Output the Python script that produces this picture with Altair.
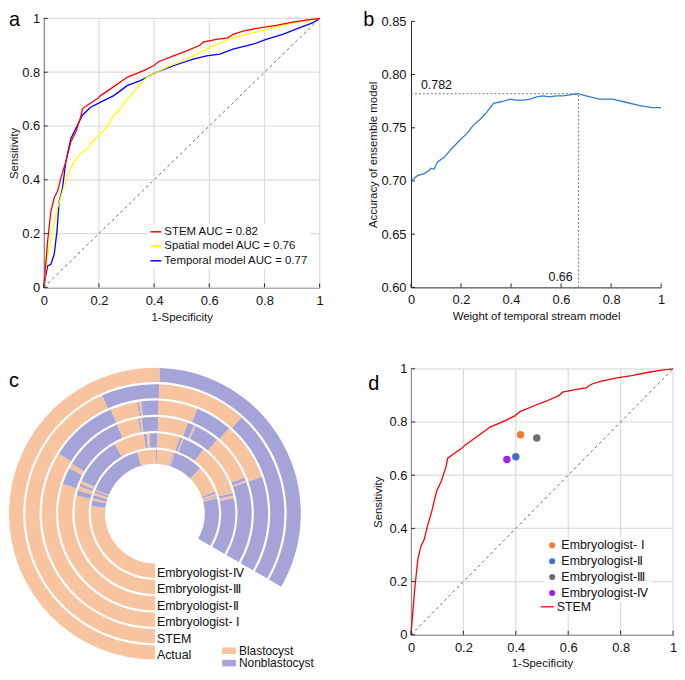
import math
import pandas as pd
import altair as alt

FONT = "Liberation Sans"
AX = "#262626"
TXT = "#111111"
GRID = "#dcdcdc"

# ---------------- panel a : ROC curves ----------------
stem_fpr = [0, 0.014, 0.026, 0.038, 0.05, 0.062, 0.08, 0.098, 0.116, 0.134, 0.14, 0.158, 0.194, 0.206,
            0.242, 0.302, 0.362, 0.398, 0.416, 0.47, 0.518, 0.566, 0.578, 0.626, 0.668, 0.686, 0.722,
            0.782, 0.842, 0.902, 0.95, 1.0]
stem_tpr = [0, 0.17, 0.283, 0.333, 0.357, 0.406, 0.467, 0.541, 0.578, 0.633, 0.664, 0.677, 0.701, 0.713,
            0.738, 0.781, 0.806, 0.824, 0.839, 0.861, 0.879, 0.9, 0.912, 0.922, 0.928, 0.941, 0.953,
            0.965, 0.974, 0.986, 0.994, 1.0]
spatial_fpr = [0, 0.014, 0.032, 0.05, 0.068, 0.086, 0.11, 0.134, 0.158, 0.182, 0.206, 0.23, 0.254, 0.278,
               0.302, 0.326, 0.35, 0.374, 0.41, 0.458, 0.518, 0.566, 0.614, 0.686, 0.758, 0.83, 0.902,
               0.962, 1.0]
spatial_tpr = [0, 0.123, 0.209, 0.295, 0.357, 0.418, 0.467, 0.498, 0.517, 0.547, 0.572, 0.597, 0.64, 0.664,
               0.701, 0.726, 0.756, 0.781, 0.8, 0.824, 0.849, 0.873, 0.898, 0.928, 0.947, 0.965, 0.983,
               0.993, 1.0]
temporal_fpr = [0, 0.014, 0.026, 0.038, 0.048, 0.056, 0.068, 0.08, 0.098, 0.122, 0.14, 0.17, 0.206, 0.254,
                0.302, 0.35, 0.41, 0.47, 0.542, 0.59, 0.638, 0.686, 0.758, 0.806, 0.866, 0.926, 0.974, 1.0]
temporal_tpr = [0, 0.08, 0.086, 0.123, 0.209, 0.32, 0.369, 0.467, 0.553, 0.603, 0.64, 0.67, 0.689, 0.713,
                0.75, 0.769, 0.8, 0.824, 0.849, 0.861, 0.867, 0.886, 0.904, 0.922, 0.941, 0.965, 0.983, 1.0]
roc_labels = ["STEM AUC = 0.82", "Spatial model AUC = 0.76", "Temporal model AUC = 0.77"]
roc_colors = ["#ff0000", "#ffff00", "#0000ff"]
unit_ticks = [0, 0.2, 0.4, 0.6, 0.8, 1]

# ---------------- panel b : ensemble weight ----------------
weight = [0, 0.026, 0.053, 0.073, 0.079, 0.092, 0.106, 0.132, 0.165, 0.198, 0.225, 0.251, 0.277, 0.304,
          0.330, 0.350, 0.370, 0.396, 0.416, 0.449, 0.476, 0.502, 0.528, 0.555, 0.581, 0.608, 0.634,
          0.667, 0.700, 0.753, 0.806, 0.859, 0.911, 0.964, 1.0]
accuracy = [0.700, 0.705, 0.707, 0.710, 0.712, 0.711, 0.718, 0.722, 0.731, 0.739, 0.745, 0.753, 0.758,
            0.765, 0.773, 0.774, 0.775, 0.777, 0.776, 0.776, 0.777, 0.779, 0.780, 0.779, 0.780, 0.780,
            0.781, 0.782, 0.780, 0.777, 0.777, 0.774, 0.771, 0.769, 0.769]
best_acc = 0.782
best_acc_label = "0.782"
best_weight = 0.67
best_weight_label = "0.66"
b_yticks = [0.6, 0.65, 0.7, 0.75, 0.8, 0.85]

# ---------------- panel c : ring chart (run lengths, out of 300 units) ----------------
ring_names = ["Actual", "STEM", "Embryologist- Ⅰ", "Embryologist-Ⅱ", "Embryologist-Ⅲ", "Embryologist-Ⅳ"]
ring_classes = ["Blastocyst", "Nonblastocyst"]
ring_colors = ["#F8C4A0", "#A4A4D8"]
runs_actual = [182, 118]
runs_stem = [156, 26, 40, 78]
runs_e1 = [122, 35, 14, 1, 1, 9, 20, 19, 30, 49]
runs_e2 = [108, 10, 3, 36, 13, 1, 1, 10, 18, 4, 1, 15, 28, 2, 1, 49]
runs_e3 = [103, 4, 3, 2, 2, 36, 22, 2, 2, 6, 16, 2, 1, 16, 38, 2, 2, 41]
runs_e4 = [97, 5, 2, 3, 2, 2, 1, 52, 17, 1, 14, 1, 1, 27, 25, 2, 2, 1, 1, 44]
ring_runs = [runs_actual, runs_stem, runs_e1, runs_e2, runs_e3, runs_e4]

# ---------------- panel d : embryologists vs STEM ----------------
emb_names = ["Embryologist- Ⅰ", "Embryologist-Ⅱ", "Embryologist-Ⅲ", "Embryologist-Ⅳ"]
emb_fpr = [0.418, 0.40, 0.48, 0.366]
emb_tpr = [0.752, 0.669, 0.74, 0.659]
emb_colors = ["#ED7D31", "#4472C4", "#6D6D6D", "#A020F0"]


# ---------------- helpers ----------------
def make_axis(title, vals, fmt, lp, tp):
    return alt.Axis(title=title, values=vals, format=fmt, grid=False, labelPadding=lp, titlePadding=tp)


def xticks(vals, field, scale, axis, H, L=4):
    df = pd.DataFrame({field: vals})
    return alt.Chart(df).mark_rule(color=AX, strokeWidth=1).encode(
        x=alt.X(f"{field}:Q", scale=scale, axis=axis), y=alt.value(H), y2=alt.value(H - L))


def yticks(vals, field, scale, axis, L=4):
    df = pd.DataFrame({field: vals})
    return alt.Chart(df).mark_rule(color=AX, strokeWidth=1).encode(
        y=alt.Y(f"{field}:Q", scale=scale, axis=axis), x=alt.value(0), x2=alt.value(L))


def xgrid(vals, field, scale, axis, H):
    df = pd.DataFrame({field: vals})
    return alt.Chart(df).mark_rule(color=GRID, strokeWidth=1.2).encode(
        x=alt.X(f"{field}:Q", scale=scale, axis=axis), y=alt.value(0), y2=alt.value(H))


def ygrid(vals, field, scale, axis, W):
    df = pd.DataFrame({field: vals})
    return alt.Chart(df).mark_rule(color=GRID, strokeWidth=1.2).encode(
        y=alt.Y(f"{field}:Q", scale=scale, axis=axis), x=alt.value(0), x2=alt.value(W))


def letter(ch, x, y):
    return alt.Chart(pd.DataFrame({"t": [ch]})).mark_text(
        align="left", baseline="alphabetic", fontSize=20, font=FONT, color="black"
    ).encode(text="t:N", x=alt.value(x), y=alt.value(y))


# ---------------- panel a ----------------
WA, HA = 278, 271
sa = alt.Scale(domain=[0, 1], nice=False, zero=False)
roc_df = pd.concat([
    pd.DataFrame({"series": roc_labels[0], "fpr": stem_fpr, "tpr": stem_tpr}),
    pd.DataFrame({"series": roc_labels[1], "fpr": spatial_fpr, "tpr": spatial_tpr}),
    pd.DataFrame({"series": roc_labels[2], "fpr": temporal_fpr, "tpr": temporal_tpr}),
])
color_a = alt.Color("series:N", scale=alt.Scale(domain=roc_labels, range=roc_colors),
                    legend=alt.Legend(orient="none", legendX=104.5, legendY=206.5, title=None,
                                      symbolType="stroke", symbolSize=121, symbolStrokeWidth=1.5,
                                      labelFontSize=11.5, labelFont=FONT, labelColor=TXT,
                                      fillColor="white", padding=2, rowPadding=2.6,
                                      labelOffset=2, labelLimit=300))
ax_a_x = make_axis("1-Specificity", unit_ticks, "~g", 7, 4)
ax_a_y = make_axis("Sensitivity", unit_ticks, "~g", 4, 2)


def roc_curve(lab):
    return alt.Chart(roc_df).transform_filter(alt.datum.series == lab).mark_line(strokeWidth=1.3).encode(
        x=alt.X("fpr:Q", scale=sa, axis=ax_a_x),
        y=alt.Y("tpr:Q", scale=sa, axis=ax_a_y),
        color=color_a)


diag_df = pd.DataFrame({"fpr": [0, 1], "tpr": [0, 1]})
diag_a = alt.Chart(diag_df).mark_line(color="#6b6b6b", strokeDash=[3, 3], strokeWidth=1).encode(
    x=alt.X("fpr:Q", scale=sa, axis=ax_a_x), y=alt.Y("tpr:Q", scale=sa, axis=ax_a_y))

pa = alt.layer(
    xgrid(unit_ticks, "fpr", sa, ax_a_x, HA), ygrid(unit_ticks, "tpr", sa, ax_a_y, WA),
    diag_a,
    roc_curve(roc_labels[2]), roc_curve(roc_labels[1]), roc_curve(roc_labels[0]),
    xticks(unit_ticks, "fpr", sa, ax_a_x, HA), yticks(unit_ticks, "tpr", sa, ax_a_y),
    letter("a", -35, 8),
).properties(width=WA, height=HA)

# ---------------- panel b ----------------
WB = 252
sbx = alt.Scale(domain=[0, 1], nice=False, zero=False)
sby = alt.Scale(domain=[0.6, 0.85], range=[HA, 3], nice=False, zero=False)
ax_b_x = make_axis("Weight of temporal stream model", unit_ticks, "~g", 6, 4)
ax_b_y = make_axis("Accuracy of ensemble model", b_yticks, ".2f", 5, 2.5)
b_df = pd.DataFrame({"w": weight, "acc": accuracy})
line_b = alt.Chart(b_df).mark_line(color="#2E7FD2", strokeWidth=1.3).encode(
    x=alt.X("w:Q", scale=sbx, axis=ax_b_x),
    y=alt.Y("acc:Q", scale=sby, axis=ax_b_y))
h_df = pd.DataFrame({"w": [0], "w2": [best_weight], "acc": [best_acc]})
hline_b = alt.Chart(h_df).mark_rule(color="#777777", strokeDash=[2, 2], strokeWidth=1).encode(
    x=alt.X("w:Q", scale=sbx, axis=ax_b_x), x2="w2:Q", y=alt.Y("acc:Q", scale=sby, axis=ax_b_y))
v_df = pd.DataFrame({"w": [best_weight], "acc": [0.6], "acc2": [best_acc]})
vline_b = alt.Chart(v_df).mark_rule(color="#777777", strokeDash=[2, 2], strokeWidth=1).encode(
    x=alt.X("w:Q", scale=sbx, axis=ax_b_x), y=alt.Y("acc:Q", scale=sby, axis=ax_b_y), y2="acc2:Q")
t1_df = pd.DataFrame({"acc": [best_acc], "t": [best_acc_label]})
txt1_b = alt.Chart(t1_df).mark_text(align="left", baseline="alphabetic", dy=-5, fontSize=12.5,
                                    font=FONT, color=TXT).encode(
    x=alt.value(10), y=alt.Y("acc:Q", scale=sby, axis=ax_b_y), text="t:N")
t2_df = pd.DataFrame({"w": [best_weight], "t": [best_weight_label]})
txt2_b = alt.Chart(t2_df).mark_text(align="right", baseline="alphabetic", dx=-6, fontSize=12.5,
                                    font=FONT, color=TXT).encode(
    x=alt.X("w:Q", scale=sbx, axis=ax_b_x), y=alt.value(HA - 6), text="t:N")

pb = alt.layer(
    hline_b, vline_b, line_b, txt1_b, txt2_b,
    xticks(unit_ticks, "w", sbx, ax_b_x, HA), yticks(b_yticks, "acc", sby, ax_b_y),
    letter("b", -48, 8),
).properties(width=WB, height=HA)

# ---------------- panel c ----------------
WC, HC = 274, 268
R0, PITCH, RW = 147.0, 16.5, 14.3
CX, CY = 112, 146
rows = []
for k, (name, runs) in enumerate(zip(ring_names, ring_runs)):
    pos = 0
    for j, L in enumerate(runs):
        rows.append({"ring": name, "start": pos, "end": pos + L, "cls": ring_classes[j % 2],
                     "r_out": R0 - k * PITCH, "r_in": R0 - k * PITCH - RW})
        pos += L
ring_df = pd.DataFrame(rows)
arcs = alt.Chart(ring_df).mark_arc(strokeWidth=0).encode(
    theta=alt.Theta("start:Q", stack=None,
                    scale=alt.Scale(domain=[0, 300], range=[math.pi, 8 * math.pi / 3])),
    theta2="end:Q",
    radius=alt.Radius("r_out:Q", scale=None),
    radius2="r_in:Q",
    color=alt.Color("cls:N", scale=alt.Scale(domain=ring_classes, range=ring_colors),
                    legend=alt.Legend(orient="none", legendX=180.7, legendY=278, title=None,
                                      symbolType="M-1.15,-0.55H1.15V0.55H-1.15Z", symbolSize=144,
                                      symbolStrokeWidth=0, labelFontSize=12, labelFont=FONT,
                                      labelColor=TXT, padding=0, rowPadding=0.5, labelOffset=4)),
    x=alt.value(CX), y=alt.value(CY),
)
lab_df = pd.DataFrame({"ring": ring_names,
                       "ly": [CY + R0 - k * PITCH - RW / 2 + 2.5 for k in range(len(ring_names))]})
labels_c = alt.Chart(lab_df).mark_text(align="left", baseline="middle", fontSize=12.5, font=FONT,
                                       color=TXT).encode(
    x=alt.value(CX + 2), y=alt.Y("ly:Q", scale=None), text="ring:N")
pc = alt.layer(arcs, labels_c, letter("c", -35, 18)).properties(width=WC, height=HC)

# ---------------- panel d ----------------
WD, HD = 264, 268
sd = alt.Scale(domain=[0, 1], nice=False, zero=False)
ax_d_x = make_axis("1-Specificity", unit_ticks, "~g", 7, 2.5)
ax_d_y = make_axis("Sensitivity", unit_ticks, "~g", 4, 6)
stem_df = pd.DataFrame({"fpr": stem_fpr, "tpr": stem_tpr, "name": "STEM"})
stem_d = alt.Chart(stem_df).mark_line(strokeWidth=1.3).encode(
    x=alt.X("fpr:Q", scale=sd, axis=ax_d_x),
    y=alt.Y("tpr:Q", scale=sd, axis=ax_d_y),
    stroke=alt.Stroke("name:N", scale=alt.Scale(domain=["STEM"], range=["#ff0000"]),
                      legend=alt.Legend(orient="none", legendX=129.8, legendY=232.3, title=None,
                                        symbolType="stroke", symbolSize=169, symbolStrokeWidth=1.3,
                                        labelFontSize=12.5, labelFont=FONT, labelColor=TXT,
                                        fillColor="white", padding=0, labelOffset=2)))
emb_df = pd.DataFrame({"who": emb_names, "fpr": emb_fpr, "tpr": emb_tpr})
pts_d = alt.Chart(emb_df).mark_circle(size=56, opacity=1).encode(
    x=alt.X("fpr:Q", scale=sd, axis=ax_d_x),
    y=alt.Y("tpr:Q", scale=sd, axis=ax_d_y),
    fill=alt.Fill("who:N", scale=alt.Scale(domain=emb_names, range=emb_colors),
                  legend=alt.Legend(orient="none", legendX=134, legendY=169.6, title=None,
                                    symbolType="circle", symbolSize=38, symbolStrokeWidth=0,
                                    labelFontSize=12.5, labelFont=FONT, labelColor=TXT,
                                    fillColor="white", padding=2, rowPadding=3, labelOffset=3,
                                    labelLimit=300)))
diag_d = alt.Chart(diag_df).mark_line(color="#6b6b6b", strokeDash=[3, 3], strokeWidth=1).encode(
    x=alt.X("fpr:Q", scale=sd, axis=ax_d_x), y=alt.Y("tpr:Q", scale=sd, axis=ax_d_y))
pdd = alt.layer(
    xgrid(unit_ticks, "fpr", sd, ax_d_x, HD), ygrid(unit_ticks, "tpr", sd, ax_d_y, WD),
    diag_d, stem_d, pts_d,
    xticks(unit_ticks, "fpr", sd, ax_d_x, HD), yticks(unit_ticks, "tpr", sd, ax_d_y),
    letter("d", -43, 21),
).properties(width=WD, height=HD)

# ---------------- layout ----------------
chart = alt.concat(
    pa, pb, pc, pdd, columns=2, spacing={"row": 82, "column": 92}, bounds="flush", align="none"
).resolve_scale(
    x="independent", y="independent", color="independent", fill="independent",
    stroke="independent", theta="independent", radius="independent"
).resolve_legend(
    color="independent", fill="independent", stroke="independent"
).resolve_axis(
    x="independent", y="independent"
).properties(padding=0).configure(font=FONT).configure_view(
    strokeWidth=0
).configure_axis(
    domainColor=AX, domainWidth=1, ticks=False, labelFontSize=13, titleFontSize=11.5,
    labelColor=TXT, titleColor=TXT, titleFontWeight="normal", labelFont=FONT, titleFont=FONT,
    labelFlush=False, labelOverlap=False
)

chart.save("out.html", embed_options={"renderer": "svg", "actions": False})
